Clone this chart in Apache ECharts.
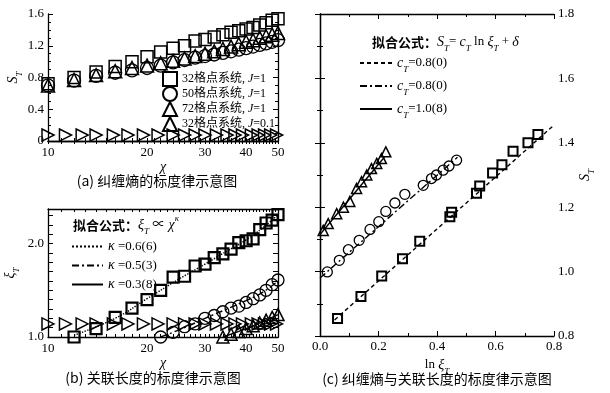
<!DOCTYPE html>
<html>
<head>
<meta charset="utf-8">
<script src="https://cdn.jsdelivr.net/npm/echarts@6/dist/echarts.min.js"></script>
<style>
  html, body { margin: 0; padding: 0; background: #fff; }
  #main { width: 610px; height: 393px; }
</style>
</head>
<body>
<div id="main"></div>
<script>
// ---- tick labels ----
const chiLabels = [10, 20, 30, 40, 50];
const chiTicks = [10, 11, 12, 13, 14, 15, 16, 17, 18, 19, 20, 21, 22, 23, 24, 25, 26, 27, 28, 29, 30,
  31, 32, 33, 34, 35, 36, 37, 38, 39, 40, 41, 42, 43, 44, 45, 46, 47, 48, 49, 50];

// ---- (a) 纠缠熵 S_T vs chi ----
const chiA = [10, 12, 14, 16, 18, 20, 22, 24, 26, 28, 30, 32, 34, 36, 38, 40, 42, 44, 46, 48, 50];
const sq32A = [0.72, 0.80, 0.87, 0.94, 1.00, 1.06, 1.12, 1.17, 1.20, 1.26, 1.28, 1.31, 1.34, 1.37, 1.39, 1.41, 1.43, 1.46, 1.49, 1.52, 1.54];
const cir50A = [0.70, 0.76, 0.82, 0.86, 0.89, 0.92, 0.95, 0.99, 1.02, 1.05, 1.07, 1.09, 1.11, 1.13, 1.15, 1.17, 1.19, 1.21, 1.23, 1.25, 1.27];
const tri72A = [0.70, 0.77, 0.83, 0.88, 0.92, 0.95, 0.98, 1.01, 1.04, 1.07, 1.10, 1.13, 1.16, 1.19, 1.22, 1.25, 1.27, 1.30, 1.32, 1.34, 1.36];
const chiJ01 = [10, 11.3, 12.7, 14, 15.8, 17.5, 19.5, 21.6, 24, 26, 28, 30, 32.5, 35, 37, 39, 41.5, 43.5, 45.5, 47.5, 49.5];
const rt32A = [0.075, 0.075, 0.075, 0.075, 0.075, 0.075, 0.075, 0.075, 0.075, 0.075, 0.075, 0.075, 0.075, 0.075, 0.075, 0.075, 0.075, 0.075, 0.075, 0.075, 0.075];

// ---- (b) 关联长度 xi_T vs chi ----
const chiBsq = [12, 14, 16, 18, 20, 22, 24, 26, 28, 30, 32, 34, 36, 38, 40, 42, 44, 46, 48, 50];
const sqB = [1.0, 1.09, 1.21, 1.31, 1.40, 1.50, 1.64, 1.65, 1.76, 1.78, 1.85, 1.89, 1.94, 2.01, 2.03, 2.05, 2.15, 2.22, 2.25, 2.31];
const chiBcir = [22, 24, 26, 28, 30, 32, 34, 36, 38, 40, 42, 44, 46, 48, 50];
const cirB = [1.0, 1.05, 1.11, 1.14, 1.20, 1.23, 1.27, 1.31, 1.33, 1.37, 1.41, 1.45, 1.50, 1.56, 1.61];
const chiBtri = [34, 36, 38, 40, 42, 44, 46, 48, 50];
const triB = [1.0, 1.03, 1.06, 1.09, 1.12, 1.15, 1.18, 1.21, 1.24];
const rtB = [1.14, 1.14, 1.14, 1.14, 1.14, 1.14, 1.14, 1.14, 1.14, 1.14, 1.14, 1.14, 1.14, 1.14, 1.14, 1.14, 1.14, 1.14, 1.14, 1.14, 1.14];
// fitted curves
const fitChiSq = [12, 16, 20, 25, 30, 35, 40, 45, 50];
const fitSq = [1.02, 1.20, 1.41, 1.62, 1.78, 1.92, 2.04, 2.17, 2.31];
const fitChiCir = [22, 26, 30, 35, 40, 45, 50];
const fitCir = [1.0, 1.10, 1.20, 1.30, 1.39, 1.48, 1.60];
const fitChiTri = [34, 42, 50];
const fitTri = [1.0, 1.12, 1.24];

// ---- (c) S_T vs ln xi_T ----
const lnXiSq = [0.060, 0.140, 0.211, 0.282, 0.341, 0.444, 0.450, 0.535, 0.546, 0.590, 0.622, 0.660, 0.711, 0.745];
const sSq = [0.854, 0.923, 0.986, 1.040, 1.094, 1.170, 1.184, 1.243, 1.266, 1.306, 1.332, 1.374, 1.400, 1.426];
const lnXiCir = [0.025, 0.066, 0.097, 0.134, 0.171, 0.201, 0.225, 0.256, 0.290, 0.353, 0.381, 0.398, 0.421, 0.441, 0.467];
const sCir = [0.999, 1.035, 1.068, 1.097, 1.131, 1.155, 1.187, 1.213, 1.240, 1.268, 1.289, 1.300, 1.315, 1.328, 1.346];
const lnXiTri = [0.011, 0.028, 0.057, 0.080, 0.102, 0.125, 0.142, 0.160, 0.176, 0.194, 0.210, 0.225];
const sTri = [1.128, 1.149, 1.180, 1.200, 1.218, 1.258, 1.279, 1.300, 1.320, 1.336, 1.351, 1.372];
const fitLnSq = [0.05, 0.80];
const fitSSq = [0.85, 1.455];
const fitLnCir = [0.0, 0.47];
const fitSCir = [0.98, 1.355];
const fitLnTri = [0.0, 0.22];
const fitSTri = [1.115, 1.355];

const legA = ['32格点系统, J=1', '50格点系统, J=1', '72格点系统, J=1', '32格点系统, J=0.1'];
const legB = ['κ =0.6(6)', 'κ =0.5(3)', 'κ =0.3(8)'];
const legC = ['cT=0.8(0)', 'cT=0.8(0) ', 'cT=1.0(8)'];

const serif = "'Liberation Serif', 'Noto Sans CJK SC', serif";
const cjk = "'Noto Sans CJK SC', sans-serif";
const rich = {
  i: { fontStyle: 'italic', fontFamily: serif, fontSize: 14, color: '#000' },
  s: { fontStyle: 'italic', fontFamily: serif, fontSize: 9, color: '#000', lineHeight: 22, verticalAlign: 'bottom' },
  p: { fontStyle: 'italic', fontFamily: serif, fontSize: 9, color: '#000', lineHeight: 22, verticalAlign: 'top' },
  c: { fontFamily: cjk, fontWeight: 'bold', fontSize: 13, color: '#000' },
  n: { fontFamily: serif, fontSize: 13, color: '#000' }
};
const richA = {
  i: { fontStyle: 'italic', fontFamily: serif, fontSize: 12, lineHeight: 14, color: '#000' }
};

function zip(xs, ys) { return xs.map((x, i) => [x, ys[i]]); }

const axLine = { show: true, lineStyle: { color: '#000', width: 1.3 } };

function logX(grid, pos, labels) {
  return {
    type: 'log', gridIndex: grid, position: pos, min: 10, max: 50, logBase: 10,
    axisLine: axLine, splitLine: { show: false },
    axisTick: { show: true, inside: true, length: 3, customValues: chiTicks, lineStyle: { color: '#000' } },
    axisLabel: labels ? { show: true, customValues: chiLabels, color: '#000', fontFamily: serif, fontSize: 13, margin: 5 } : { show: false },
    name: labels ? 'χ' : '', nameLocation: 'middle', nameGap: 12,
    nameTextStyle: { fontFamily: serif, fontStyle: 'italic', fontSize: 14, color: '#000' }
  };
}

function valAxis(grid, pos, min, max, interval, minorSplit, labels, fmt) {
  return {
    type: 'value', gridIndex: grid, position: pos, min: min, max: max, interval: interval,
    axisLine: axLine, splitLine: { show: false },
    axisTick: { show: true, inside: true, length: 5, lineStyle: { color: '#000' } },
    minorTick: { show: minorSplit > 0, splitNumber: minorSplit || 5, length: 3, lineStyle: { color: '#000' } },
    axisLabel: labels ? { show: true, color: '#000', fontFamily: serif, fontSize: 13, margin: 4, formatter: fmt } : { show: false }
  };
}

function scatter(name, xi, yi, data, symbol, size, bw, rotate) {
  return {
    type: 'scatter', name: name, xAxisIndex: xi, yAxisIndex: yi, data: data,
    symbol: symbol, symbolSize: size, symbolRotate: rotate || 0,
    itemStyle: { color: 'rgba(0,0,0,0)', borderColor: '#000', borderWidth: bw, opacity: 1 },
    emphasis: { disabled: true }, z: 3
  };
}

function fitLine(name, xi, yi, data, type, smooth) {
  return {
    type: 'line', name: name, xAxisIndex: xi, yAxisIndex: yi, data: data,
    symbol: 'none', smooth: smooth, clip: true,
    lineStyle: { color: '#000', width: 1.4, type: type },
    itemStyle: { color: '#000' }, z: 2
  };
}

const legendRich = {
  'κ =0.6(6)': '{i|κ}{n| =0.6(6)}',
  'κ =0.5(3)': '{i|κ}{n| =0.5(3)}',
  'κ =0.3(8)': '{i|κ}{n| =0.3(8)}',
  'cT=0.8(0)': '{i|c}{s|T}{n|=0.8(0)}',
  'cT=0.8(0) ': '{i|c}{s|T}{n|=0.8(0)}',
  'cT=1.0(8)': '{i|c}{s|T}{n|=1.0(8)}'
};
// line legends: hide the symbol, keep the dashed line
const hiddenSymbol = { color: 'rgba(0,0,0,0)', borderWidth: 0, opacity: 0 };

const chart = echarts.init(document.getElementById('main'));
const option = {
  animation: false,
  backgroundColor: '#fff',
  textStyle: { fontFamily: serif, color: '#000' },
  grid: [
    { left: 48, top: 14, width: 230, height: 127 },
    { left: 48, top: 209, width: 230, height: 128 },
    { left: 320, top: 14, width: 234, height: 322 }
  ],
  xAxis: [
    logX(0, 'bottom', true),
    logX(0, 'top', false),
    logX(1, 'bottom', true),
    logX(1, 'top', false),
    Object.assign(valAxis(2, 'bottom', 0, 0.8, 0.2, 2, true, v => v.toFixed(1)), {
      name: '{n|ln }{i|ξ}{s|T}', nameLocation: 'middle', nameGap: 18,
      nameTextStyle: { rich: rich }
    }),
    valAxis(2, 'top', 0, 0.8, 0.2, 2, false)
  ],
  yAxis: [
    Object.assign(valAxis(0, 'left', 0, 1.6, 0.4, 4, true, v => (v === 0 ? '0' : String(+v.toFixed(1)))), {
      name: '{i|S}{s|T}', nameLocation: 'middle', nameGap: 24, nameRotate: 90,
      nameTextStyle: { rich: rich }
    }),
    valAxis(0, 'right', 0, 1.6, 0.4, 4, false),
    Object.assign(valAxis(1, 'left', 1, 2.37, 0.1, 0, true,
      v => (Math.abs(v - 1) < 1e-6 || Math.abs(v - 2) < 1e-6) ? v.toFixed(1) : ''), {
      name: '{i|ξ}{s|T}', nameLocation: 'middle', nameGap: 27, nameRotate: 90,
      nameTextStyle: { rich: rich }
    }),
    valAxis(1, 'right', 1, 2.37, 0.1, 0, false),
    valAxis(2, 'left', 0.8, 1.8, 0.2, 2, false),
    Object.assign(valAxis(2, 'right', 0.8, 1.8, 0.2, 2, true, v => v.toFixed(1)), {
      name: '{i|S}{s|T}', nameLocation: 'middle', nameGap: 20, nameRotate: 90,
      nameTextStyle: { rich: rich }
    })
  ],
  legend: [
    {
      data: legA, left: 157, top: 66, orient: 'vertical', itemWidth: 14, itemHeight: 14, itemGap: -1,
      textStyle: { fontFamily: serif, fontSize: 12, lineHeight: 14, color: '#000', rich: richA },
      formatter: name => name.replace('J=', '{i|J}='),
      selectedMode: false
    },
    {
      data: legB, left: 66, top: 234, orient: 'vertical', itemWidth: 31, itemHeight: 10, itemGap: 4,
      itemStyle: hiddenSymbol,
      textStyle: { fontFamily: serif, fontSize: 13, lineHeight: 15, color: '#000', rich: rich },
      formatter: name => legendRich[name], selectedMode: false
    },
    {
      data: legC, left: 354, top: 51, orient: 'vertical', itemWidth: 32, itemHeight: 10, itemGap: 5,
      itemStyle: hiddenSymbol,
      textStyle: { fontFamily: serif, fontSize: 13, color: '#000', rich: rich },
      formatter: name => legendRich[name], selectedMode: false
    }
  ],
  graphic: [
    { type: 'text', x: 157, y: 181, style: { text: '(a) 纠缠熵的标度律示意图', align: 'center', verticalAlign: 'middle', fontFamily: cjk, fontSize: 14, fill: '#000' } },
    { type: 'text', x: 153, y: 378, style: { text: '(b) 关联长度的标度律示意图', align: 'center', verticalAlign: 'middle', fontFamily: cjk, fontSize: 14, fill: '#000' } },
    { type: 'text', x: 437, y: 379, style: { text: '(c) 纠缠熵与关联长度的标度律示意图', align: 'center', verticalAlign: 'middle', fontFamily: cjk, fontSize: 14, fill: '#000' } },
    { type: 'text', x: 73, y: 225, style: { text: '{c|拟合公式：}{i|ξ}{s|T}{n| ∝ }{i|χ}{p|κ}', verticalAlign: 'middle', rich: rich } },
    { type: 'text', x: 372, y: 42, style: { text: '{c|拟合公式：}{i|S}{s|T}{n|= }{i|c}{s|T}{n| ln }{i|ξ}{s|T}{n| + }{i|δ}', verticalAlign: 'middle', rich: rich } }
  ],
  series: [
    // (a)
    scatter(legA[0], 0, 0, zip(chiA, sq32A), 'rect', 12, 1.5),
    scatter(legA[1], 0, 0, zip(chiA, cir50A), 'circle', 13, 1.3),
    scatter(legA[2], 0, 0, zip(chiA, tri72A), 'triangle', 13, 1.5),
    scatter(legA[3], 0, 0, zip(chiJ01, rt32A), 'triangle', 12, 1.5, -90),
    // (b)
    scatter('b32', 2, 2, zip(chiBsq, sqB), 'rect', 11, 2.2),
    scatter('b50', 2, 2, zip(chiBcir, cirB), 'circle', 12, 1.3),
    scatter('b72', 2, 2, zip(chiBtri, triB), 'triangle', 12, 1.5),
    scatter('b32J', 2, 2, zip(chiJ01, rtB), 'triangle', 12, 1.5, -90),
    fitLine(legB[0], 2, 2, zip(fitChiSq, fitSq), 'dotted', true),
    fitLine(legB[1], 2, 2, zip(fitChiCir, fitCir), [7, 3, 2, 3], true),
    fitLine(legB[2], 2, 2, zip(fitChiTri, fitTri), 'solid', true),
    // (c)
    scatter('c32', 4, 5, zip(lnXiSq, sSq), 'rect', 9, 2),
    scatter('c50', 4, 5, zip(lnXiCir, sCir), 'circle', 10, 1.3),
    scatter('c72', 4, 5, zip(lnXiTri, sTri), 'triangle', 10, 1.5),
    fitLine(legC[0], 4, 5, zip(fitLnSq, fitSSq), [4, 3], false),
    fitLine(legC[1], 4, 5, zip(fitLnCir, fitSCir), [7, 3, 2, 3], false),
    fitLine(legC[2], 4, 5, zip(fitLnTri, fitSTri), 'solid', false)
  ]
};
chart.setOption(option);
</script>
</body>
</html>
